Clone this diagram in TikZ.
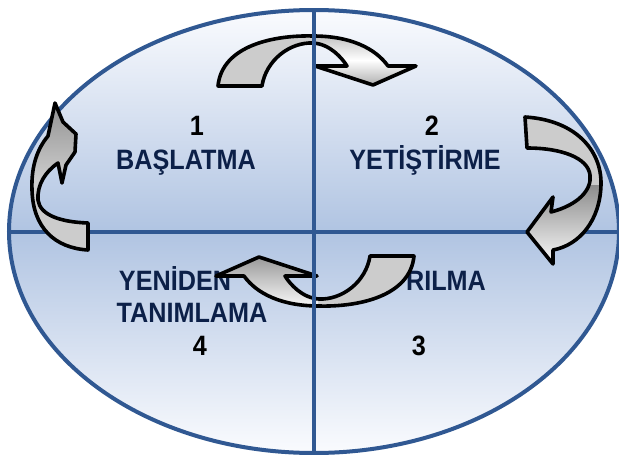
\documentclass[tikz,border=0pt]{standalone}
\usepackage{fontspec}
\setmainfont{Liberation Sans}
\newfontfamily\stagefont[FakeStretch=0.9]{Liberation Sans}
\usetikzlibrary{shapes.geometric}
\definecolor{ringblue}{RGB}{48,88,146}
\definecolor{ringpale}{RGB}{250,251,254}
\definecolor{ringmid}{RGB}{176,196,226}
\definecolor{stagenavy}{RGB}{12,32,72}
\definecolor{arrowgray}{RGB}{204,204,204}
\tikzset{
  ring/.style={ellipse, draw=ringblue, line width=4pt, inner sep=0pt, outer sep=0pt,
    minimum width=610pt, minimum height=443pt,
    top color=ringpale, bottom color=ringpale, middle color=ringmid},
  divider/.style={draw=ringblue, line width=4pt},
  stage/.style={font=\stagefont\bfseries\fontsize{28}{30}\selectfont, text=stagenavy, anchor=base, inner sep=0pt},
  stagenum/.style={stage, text=black},
  turnline/.style={draw=black, line width=3.6pt, line join=round},
}
% outlines of the four turn arrows
\newcommand{\turnA}{(218,86) -- (262,86) .. controls (266,60) and (290,42) .. (313,43)
  .. controls (330,44) and (342,58) .. (347,66) -- (315,66) -- (373,85) -- (416,66) -- (388,66)
  .. controls (375,48) and (350,36) .. (313,36) .. controls (275,35) and (222,45) .. (218,86) -- cycle}
\newcommand{\turnB}{(525,117) .. controls (575,120) and (602,150) .. (601,185)
  .. controls (600,220) and (580,245) .. (553,250) -- (553,264) -- (527,232) -- (553,197) -- (551,212)
  .. controls (578,205) and (592,190) .. (590,175) .. controls (588,158) and (562,148) .. (527,148) -- cycle}
\newcommand{\turnC}{(414,256) -- (370,256) .. controls (366,282) and (342,300) .. (319,299)
  .. controls (302,298) and (290,284) .. (285,276) -- (317,276) -- (259,257) -- (216,276) -- (244,276)
  .. controls (257,294) and (282,306) .. (319,306) .. controls (357,307) and (410,297) .. (414,256) -- cycle}
\newcommand{\turnD}{(55,103) -- (63,122) -- (76,134) -- (75,152) -- (66,165) -- (62,183) -- (58,163)
  .. controls (45,172) and (37,185) .. (38,200) .. controls (40,215) and (60,222) .. (88,223) -- (88,250)
  .. controls (55,248) and (33,228) .. (32,190) .. controls (31,165) and (38,148) .. (48,136) -- cycle}

\begin{document}
\begin{tikzpicture}[x=1pt, y=-1pt]
  \useasboundingbox (0,0) rectangle (619,455);
  % ring and the horizontal divider
  \node[ring] (ring) at (314,231.5) {};
  \draw[divider] (ring.west) -- (ring.east);
  % stage labels
  \node[stagenum] (n1) at (197,135) {1};
  \node[stage] (s1) at (186,169) {BAŞLATMA};
  \node[stagenum] (n2) at (432,135) {2};
  \node[stage] (s2) at (425,169) {YETİŞTİRME};
  \node[stage] (s3) at (446,290) {RILMA};
  \node[stagenum] (n3) at (419,355) {3};
  \node[stage] (s4a) at (175,290) {YENİDEN};
  \node[stage] (s4b) at (192,322) {TANIMLAMA};
  \node[stagenum] (n4) at (200,355) {4};
  % turn arrows: flat body, shaded head
  \begin{scope}
    \clip \turnA;
    \fill[arrowgray] (200,20) rectangle (430,100);
    \shade[top color=gray!60, bottom color=gray!75, middle color=white] (314,30) rectangle (420,90);
  \end{scope}
  \draw[turnline] \turnA;
  \begin{scope}
    \clip \turnB;
    \fill[arrowgray] (515,105) rectangle (610,275);
    \shade[top color=gray!90, bottom color=white] (515,185) rectangle (610,268);
  \end{scope}
  \draw[turnline] \turnB;
  \begin{scope}
    \clip \turnC;
    \fill[arrowgray] (205,245) rectangle (425,315);
    \shade[top color=gray!90, bottom color=white] (205,250) rectangle (318,310);
  \end{scope}
  \draw[turnline] \turnC;
  \begin{scope}
    \clip \turnD;
    \fill[arrowgray] (20,95) rectangle (95,260);
    \shade[top color=gray!90, bottom color=gray!40] (20,95) rectangle (95,180);
  \end{scope}
  \draw[turnline] \turnD;
  % vertical divider over the arrows
  \draw[divider] (ring.north) -- (ring.south);
\end{tikzpicture}
\end{document}
